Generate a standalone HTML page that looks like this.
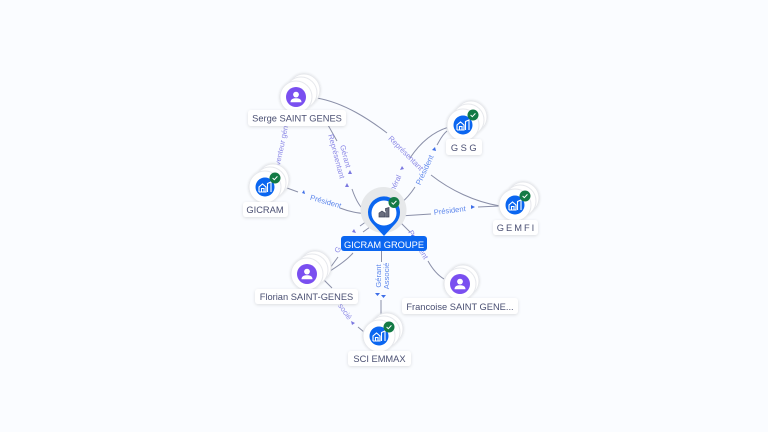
<!DOCTYPE html>
<html><head><meta charset="utf-8"><style>
html,body{margin:0;padding:0;background:#fafcff}
svg{display:block}
text{font-family:"Liberation Sans",sans-serif}
.e{fill:none;stroke:#8a8fa8;stroke-width:1}
.l{font-size:7.6px;fill:#8b88e6}
.b{font-size:7.6px;fill:#5f88ec}
.n{font-size:9.3px;fill:#4a4f72;text-anchor:middle}
.c{fill:#fff;stroke:#e6e8ec;stroke-width:1}
.lb{fill:#fff;filter:url(#s)}
</style></head><body>
<svg width="768" height="432" viewBox="0 0 768 432" xmlns="http://www.w3.org/2000/svg">
<defs>
<filter id="s" x="-20%" y="-40%" width="140%" height="180%"><feDropShadow dx="0" dy="1" stdDeviation="1.5" flood-color="#000" flood-opacity=".12"/></filter>
<filter id="cs" x="-30%" y="-30%" width="160%" height="160%"><feDropShadow dx="0" dy="0" stdDeviation="1.2" flood-color="#000" flood-opacity=".14"/></filter>
<g id="co"><circle r="9.5" fill="#0b66f0"/><path d="M-6 5V0L-2.5-3 1 0V5H-6M-3.5 5V1.5H-1V5M2.5 5V-3.5L6-5V5" fill="none" stroke="#fff" stroke-width="1.1"/></g>
<g id="ok"><circle r="5.5" fill="#137a45"/><path d="M-2.4 0L-.7 1.7 2.4-1.6" fill="none" stroke="#fff" stroke-width="1"/></g>
<g id="pe"><circle r="10" fill="#7a4ff0"/><circle cy="-2.4" r="2.9" fill="#fff"/><path d="M-5.5 5.2C-5.5 1.8-2.500 1.2 0 1.2S5.500 1.800 5.500 5.200Z" fill="#fff"/></g>
</defs>

<!-- edges -->
<path class="e" d="M317 98C345 103 370 120 387 133"/>
<path class="e" d="M431 175C450 190 475 202 500 206"/>
<path class="e" d="M328 125L337 141"/>
<path class="e" d="M352 189C355 198 360 208 367 213"/>
<path class="e" d="M287 188L298 192"/>
<path class="e" d="M340 208C350 212 358 213 367 214"/>
<path class="e" d="M400 216L431 214"/>
<path class="e" d="M478 207L499 206"/>
<path class="e" d="M449 127C432 132 420 143 410 158"/>
<path class="e" d="M447 131C442 135 440 140 437 145"/>
<path class="e" d="M415 187C410 195 405 200 399 205"/>
<path class="e" d="M400 222C404 226 407 229 410 232"/>
<path class="e" d="M428 261C433 270 439 276 444 279"/>
<path class="e" d="M381.500 250V262"/>
<path class="e" d="M381 300V316"/>
<path class="e" d="M330 268L338 257"/>
<path class="e" d="M330 271C338 266 347 260 353 253"/>
<path class="e" d="M360 226L367 221"/>
<path class="e" d="M363 232L370 227"/>
<path class="e" d="M323 279L332 288"/>
<path class="e" d="M358 327L364 332"/>

<!-- arrowheads -->
<g fill="#7b78e0">
<path d="M345 187l2-4 2 4z"/><path d="M348 174l2-4 2 4z"/>
<path d="M356 233l-4-1 2-3z"/><path d="M351 321l4 2-3 2z"/>
<path d="M400 170l4-1-2-3z"/>
</g>
<g fill="#3f6fe8">
<path d="M302 193l2-3 1 4z"/><path d="M475 207l-4-2 0 4z"/>
<path d="M432 150l3-3 1 4z"/>
<path d="M375 293l5 0-2.500 3z"/><path d="M381 295l5 0-2.500 3z"/>
<path d="M411 235l3 0-1 4z"/>
</g>

<!-- edge labels -->
<text class="l" transform="translate(284,146) rotate(-78)" text-anchor="middle">venteur gén</text>
<text class="l" transform="translate(343,157) rotate(75)" text-anchor="middle">Gérant</text>
<text class="l" transform="translate(334,157) rotate(75)" text-anchor="middle">Représentant</text>
<text class="l" transform="translate(404,155) rotate(45)" text-anchor="middle">Représentant</text>
<text class="l" transform="translate(397,186) rotate(-65)" text-anchor="middle">énéral</text>
<text class="b" transform="translate(427,171) rotate(-65)" text-anchor="middle">Président</text>
<text class="b" transform="translate(325,204) rotate(16)" text-anchor="middle">Président</text>
<text class="b" transform="translate(450,213) rotate(-7)" text-anchor="middle">Président</text>
<text class="b" transform="translate(381,276) rotate(-90)" text-anchor="middle">Gérant</text>
<text class="b" transform="translate(389,276) rotate(-90)" text-anchor="middle">Associé</text>
<text class="l" transform="translate(340,251) rotate(-60)" text-anchor="middle">G</text>
<text class="l" transform="translate(343,313) rotate(55)" text-anchor="middle">socié</text>
<text class="l" transform="translate(416,246) rotate(60)" text-anchor="middle">Président</text>

<!-- Serge -->
<g filter="url(#cs)"><circle class="c" cx="304" cy="90" r="16"/><circle class="c" cx="301" cy="93" r="16"/><circle class="c" cx="296" cy="97" r="16"/></g>
<use href="#pe" x="296" y="97"/>
<rect class="lb" x="248" y="110" width="98" height="16" rx="3"/>
<text class="n" x="297" y="121.500">Serge SAINT GENES</text>

<!-- GSG -->
<g filter="url(#cs)"><circle class="c" cx="471" cy="117" r="16"/><circle class="c" cx="468" cy="120" r="16"/><circle class="c" cx="463" cy="125" r="16"/></g>
<use href="#co" x="463" y="125"/><use href="#ok" x="473" y="115"/>
<rect class="lb" x="446" y="139" width="36" height="16" rx="3"/>
<text class="n" x="465" y="151" letter-spacing="2.500">GSG</text>

<!-- GICRAM -->
<g filter="url(#cs)"><circle class="c" cx="273" cy="180" r="16"/><circle class="c" cx="270" cy="183" r="16"/><circle class="c" cx="265" cy="187" r="16"/></g>
<use href="#co" x="265" y="187"/><use href="#ok" x="275" y="178"/>
<rect class="lb" x="243" y="202" width="45" height="15" rx="3"/>
<text class="n" x="265" y="213">GICRAM</text>

<!-- GEMFI -->
<g filter="url(#cs)"><circle class="c" cx="523" cy="198" r="16"/><circle class="c" cx="520" cy="201" r="16"/><circle class="c" cx="515" cy="205" r="16"/></g>
<use href="#co" x="515" y="205"/><use href="#ok" x="525" y="196"/>
<rect class="lb" x="493" y="220" width="45" height="15" rx="3"/>
<text class="n" x="516.500" y="231" letter-spacing="2">GEMFI</text>

<!-- Florian -->
<g filter="url(#cs)"><circle class="c" cx="315" cy="267" r="16"/><circle class="c" cx="312" cy="270" r="16"/><circle class="c" cx="307" cy="274" r="16"/></g>
<use href="#pe" x="307" y="274"/>
<rect class="lb" x="255" y="289" width="103" height="15" rx="3"/>
<text class="n" x="306.500" y="300">Florian SAINT-GENES</text>

<!-- Francoise -->
<g filter="url(#cs)"><circle class="c" cx="463" cy="281" r="16"/><circle class="c" cx="460" cy="284" r="16"/></g>
<use href="#pe" x="460" y="284"/>
<rect class="lb" x="402" y="298" width="116" height="16" rx="3"/>
<text class="n" x="460" y="310">Francoise SAINT GENE...</text>

<!-- SCI EMMAX -->
<g filter="url(#cs)"><circle class="c" cx="387" cy="329" r="16"/><circle class="c" cx="384" cy="332" r="16"/><circle class="c" cx="379" cy="336" r="16"/></g>
<use href="#co" x="379" y="336"/><use href="#ok" x="389" y="327"/>
<rect class="lb" x="348" y="351" width="63" height="15" rx="3"/>
<text class="n" x="379.500" y="362">SCI EMMAX</text>

<!-- center -->
<circle cx="383.500" cy="210" r="23" fill="#e6e8ea"/>
<path d="M384 236L372 223A16 16 0 1 1 396 223Z" fill="#0b66f0"/>
<circle cx="384" cy="213" r="12.500" fill="#fff"/>
<path d="M379 217V213L382 211 385 213V217ZM385.500 211V208.500L389 207.500V217H385.500" fill="#6a6e7e" stroke="#3d4257" stroke-width=".7"/>
<use href="#ok" x="394" y="202.500"/>
<rect x="341" y="236" width="86" height="15" rx="3" fill="#0b66f0"/>
<text x="384" y="248" text-anchor="middle" font-size="9.300" fill="#fff">GICRAM GROUPE</text>
</svg>
</body></html>
